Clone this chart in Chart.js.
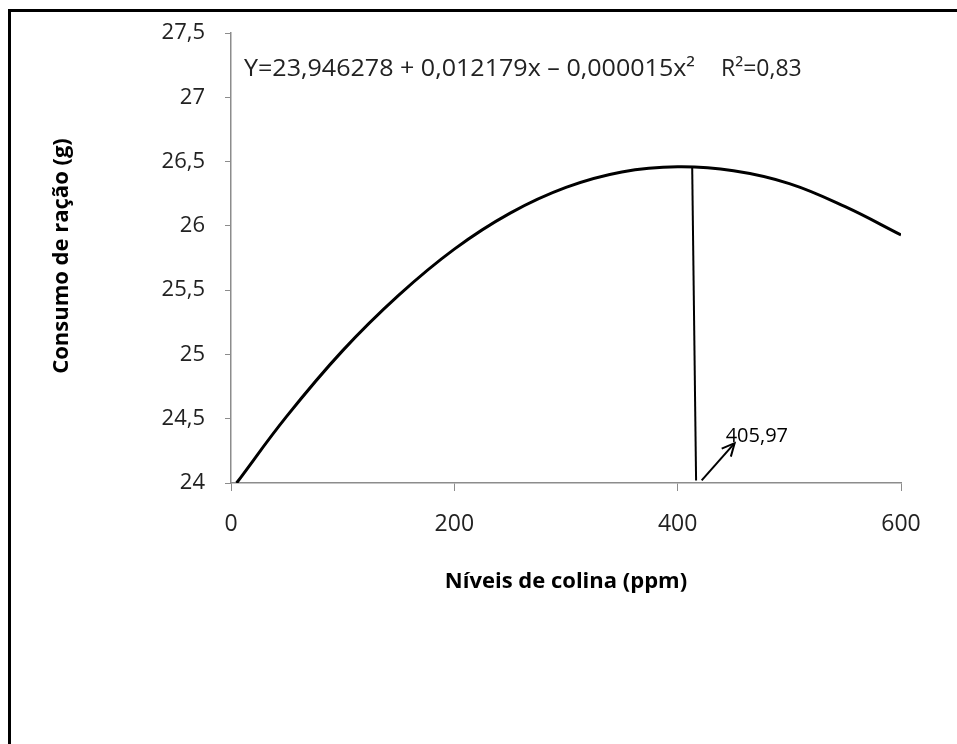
<!DOCTYPE html>
<html>
<head>
<meta charset="utf-8">
<script src="https://cdn.jsdelivr.net/npm/chart.js@4.4.0/dist/chart.umd.min.js"></script>
<style>
    body { margin: 0; background: #fff; }
    .frame { position: absolute; left: 8px; top: 9px; width: 1000px; height: 800px;
             border-left: 3px solid #000; border-top: 3px solid #000; }
    .chart-container { position: absolute; left: 0; top: 0; width: 957px; height: 744px; }
</style>
</head>
<body>
<div class="frame"></div>
<div class="chart-container">
    <canvas id="colinaChart"></canvas>
</div>

<script>
    // curve
    const niveis = [5, 50, 100, 150, 200, 250, 300, 350, 400, 450, 500, 550, 600];
    const consumo = [24.00, 24.52, 25.03, 25.46, 25.82, 26.10, 26.30, 26.42, 26.46, 26.43, 26.33, 26.15, 25.93];

    // vertical line at the maximum and the arrow pointing to the label
    const linhaX = [413, 416.5];
    const linhaY = [26.46, 24.02];
    const setaX = [421.5, 451];
    const setaY = [24.02, 24.31];
    const rotulo = '405,97';
    const rotuloPos = [443, 24.36];

    const equacao = 'Y=23,946278 + 0,012179x \u2013 0,000015x\u00b2';
    const r2 = 'R\u00b2=0,83';
    const tituloY = 'Consumo de ração (g)';
    const tituloX = 'Níveis de colina (ppm)';

    const fonte = '"Open Sans", "Noto Sans", sans-serif';

    const toPts = (xs, ys) => xs.map((x, i) => ({ x: x, y: ys[i] }));

    // text, arrow head and axis titles
    const extras = {
        id: 'extras',
        afterDatasetsDraw(chart) {
            const ctx = chart.ctx;
            const xs = chart.scales.x, ys = chart.scales.y;
            ctx.save();

            // arrow head
            const x0 = xs.getPixelForValue(setaX[0]), y0 = ys.getPixelForValue(setaY[0]);
            const x1 = xs.getPixelForValue(setaX[1]), y1 = ys.getPixelForValue(setaY[1]);
            const ang = Math.atan2(y1 - y0, x1 - x0);
            ctx.strokeStyle = '#000';
            ctx.lineWidth = 2;
            ctx.beginPath();
            ctx.moveTo(x1 - 14 * Math.cos(ang - 0.45), y1 - 14 * Math.sin(ang - 0.45));
            ctx.lineTo(x1, y1);
            ctx.lineTo(x1 - 14 * Math.cos(ang + 0.45), y1 - 14 * Math.sin(ang + 0.45));
            ctx.stroke();

            ctx.fillStyle = '#000';
            ctx.font = '20px ' + fonte;
            ctx.textBaseline = 'middle';
            ctx.textAlign = 'left';
            ctx.fillText(rotulo, xs.getPixelForValue(rotuloPos[0]), ys.getPixelForValue(rotuloPos[1]));

            // equation (slightly stretched, like the original)
            ctx.fillStyle = '#222';
            ctx.font = '23px ' + fonte;
            ctx.save();
            ctx.translate(244, 69);
            ctx.scale(1.09, 1);
            ctx.fillText(equacao, 0, 0);
            ctx.restore();
            ctx.fillText(r2, 721, 69);

            // axis titles
            ctx.fillStyle = '#000';
            ctx.font = 'bold 22px ' + fonte;
            ctx.textAlign = 'center';
            ctx.fillText(tituloX, 566, 582);
            ctx.translate(62, 256);
            ctx.rotate(-Math.PI / 2);
            ctx.fillText(tituloY, 0, 0);
            ctx.restore();
        }
    };

    new Chart(document.getElementById('colinaChart').getContext('2d'), {
        type: 'scatter',
        data: {
            datasets: [{
                data: toPts(niveis, consumo),
                showLine: true,
                borderColor: '#000',
                borderWidth: 3,
                pointRadius: 0,
                tension: 0.4
            }, {
                data: toPts(linhaX, linhaY),
                showLine: true,
                borderColor: '#000',
                borderWidth: 2,
                pointRadius: 0
            }, {
                data: toPts(setaX, setaY),
                showLine: true,
                borderColor: '#000',
                borderWidth: 2,
                pointRadius: 0
            }]
        },
        options: {
            responsive: true,
            maintainAspectRatio: false,
            animation: false,
            layout: { padding: { top: 25, right: 56, bottom: 0, left: 0 } },
            plugins: {
                legend: { display: false },
                tooltip: { enabled: false }
            },
            scales: {
                x: {
                    type: 'linear',
                    min: 0,
                    max: 600,
                    afterFit: (s) => { s.height = 261; },
                    grid: { drawOnChartArea: false, tickLength: 8, color: '#8c8c8c' },
                    border: { color: '#8c8c8c', width: 1.5 },
                    ticks: {
                        stepSize: 200,
                        padding: 20,
                        color: '#222',
                        font: { size: 23, family: fonte },
                        callback: (v) => String(v)
                    }
                },
                y: {
                    min: 24,
                    max: 27.5,
                    afterFit: (s) => { s.width = 231; },
                    grid: { drawOnChartArea: false, tickLength: 6, color: '#8c8c8c' },
                    border: { color: '#8c8c8c', width: 1.5 },
                    ticks: {
                        stepSize: 0.5,
                        padding: 20,
                        color: '#222',
                        font: { size: 22, family: fonte },
                        callback: (v) => String(v).replace('.', ',')
                    }
                }
            }
        },
        plugins: [extras]
    });
</script>
</body>
</html>
